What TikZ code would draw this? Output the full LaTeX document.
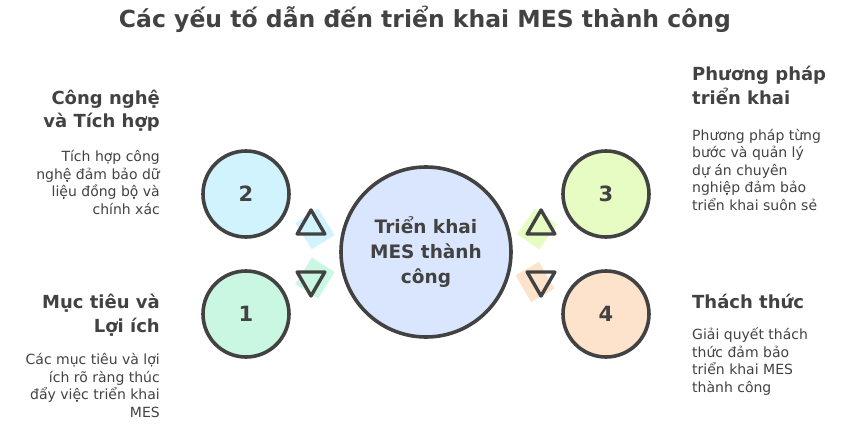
\documentclass[tikz,border=0pt]{standalone}
\usepackage{fontspec}
\setmainfont{DejaVu Sans}
\usetikzlibrary{shapes.geometric}
\definecolor{ink}{HTML}{424242}
\definecolor{midblue}{HTML}{DAE6FD}
\definecolor{skyblue}{HTML}{D1F3FD}
\definecolor{mintgreen}{HTML}{C9F7E1}
\definecolor{limegreen}{HTML}{E7FCC3}
\definecolor{peach}{HTML}{FEE3CC}
\newcommand{\bigradius}{85pt}
\newcommand{\smallradius}{43pt}
\newcommand{\centerx}{426}
\newcommand{\centery}{252}
\newcommand{\leftx}{246}
\newcommand{\rightx}{606}
\newcommand{\topy}{194}
\newcommand{\boty}{314}
\newcommand{\leftarrowx}{311}
\newcommand{\rightarrowx}{541}
\newcommand{\uparrowy}{226}
\newcommand{\downarrowy}{280}
\newcommand{\lefttextx}{160}
\newcommand{\righttextx}{692}
\begin{document}
\begin{tikzpicture}[x=1pt,y=-1pt]
\tikzstyle{disc}=[circle,draw=ink,line width=3.6pt,inner sep=0pt,text=ink,font=\fontsize{21}{21}\selectfont\bfseries]
\tikzstyle{patch}=[inner sep=0pt,minimum width=27pt,minimum height=31pt]
\tikzstyle{uptri}=[regular polygon,regular polygon sides=3,draw=ink,line width=3.4pt,line join=round,inner sep=0pt,minimum size=32pt]
\tikzstyle{downtri}=[uptri,shape border rotate=180]
\tikzstyle{heading}=[inner sep=0pt,text=ink,font=\fontsize{18}{23.5}\selectfont\bfseries]
\tikzstyle{blurb}=[inner sep=0pt,text=ink,font=\fontsize{14}{17.5}\selectfont]

\useasboundingbox (0,0) rectangle (868,444);

\node (title) [inner sep=0pt,text=ink,font=\fontsize{23.5}{23.5}\selectfont\bfseries,anchor=base] at (425,28) {Các yếu tố dẫn đến triển khai MES thành công};

% colour patches behind the triangles
\node (patchLU) [patch,fill=skyblue,rotate=32] at (315,229) {};
\node (patchLD) [patch,fill=mintgreen,rotate=-32] at (315,278) {};
\node (patchRU) [patch,fill=limegreen,rotate=-35] at (537,229) {};
\node (patchRD) [patch,fill=peach,rotate=30] at (535,282) {};

\node (hub) [disc,minimum size=2*\bigradius,fill=midblue,align=center,font=\fontsize{18.5}{25}\selectfont\bfseries] at (\centerx,\centery) {Triển khai\\MES thành\\công};

\node (two)   [disc,minimum size=2*\smallradius,fill=skyblue]   at (\leftx,\topy) {2};
\node (one)   [disc,minimum size=2*\smallradius,fill=mintgreen] at (\leftx,\boty) {1};
\node (three) [disc,minimum size=2*\smallradius,fill=limegreen] at (\rightx,\topy) {3};
\node (four)  [disc,minimum size=2*\smallradius,fill=peach]     at (\rightx,\boty) {4};

\node (arrowLU) [uptri]   at (\leftarrowx,\uparrowy) {};
\node (arrowLD) [downtri] at (\leftarrowx,\downarrowy) {};
\node (arrowRU) [uptri]   at (\rightarrowx,\uparrowy) {};
\node (arrowRD) [downtri] at (\rightarrowx,\downarrowy) {};

% left column, right aligned (base = last line)
\node (techhead) [heading,align=right,anchor=base east] at (\lefttextx,128) {Công nghệ\\và Tích hợp};
\node (techtext) [blurb,align=right,anchor=base east] at (\lefttextx,214) {Tích hợp công\\nghệ đảm bảo dữ\\liệu đồng bộ và\\chính xác};
\node (goalhead) [heading,align=right,anchor=base east] at (\lefttextx,332) {Mục tiêu và\\Lợi ích};
\node (goaltext) [blurb,align=right,anchor=base east] at (\lefttextx,417) {Các mục tiêu và lợi\\ích rõ ràng thúc\\đẩy việc triển khai\\MES};

% right column, left aligned
\node (methhead) [heading,align=left,anchor=base west] at (\righttextx,104) {Phương pháp\\triển khai};
\node (methtext) [blurb,align=left,anchor=base west] at (\righttextx,210) {Phương pháp từng\\bước và quản lý\\dự án chuyên\\nghiệp đảm bảo\\triển khai suôn sẻ};
\node (riskhead) [heading,align=left,anchor=base west] at (\righttextx,308) {Thách thức};
\node (risktext) [blurb,align=left,anchor=base west] at (\righttextx,392) {Giải quyết thách\\thức đảm bảo\\triển khai MES\\thành công};

\end{tikzpicture}
\end{document}
